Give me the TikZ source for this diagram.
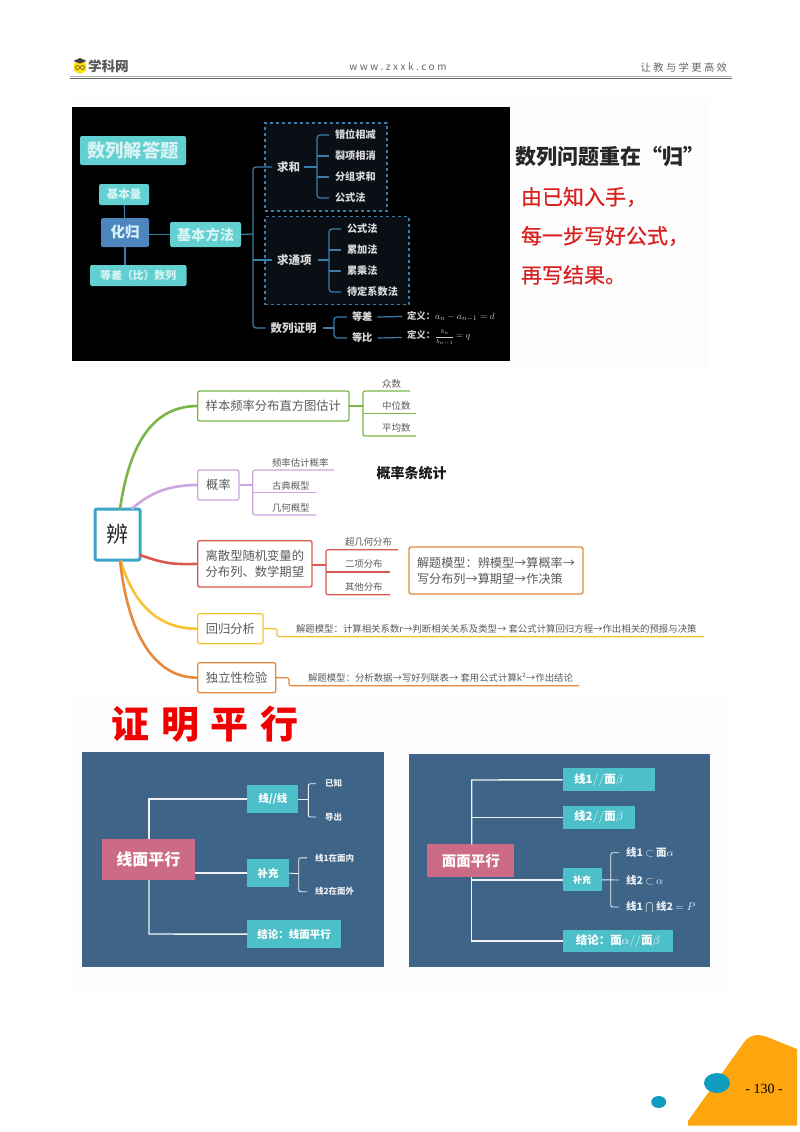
\documentclass[tikz,border=0pt]{standalone}
\usepackage{fontspec}
\setmainfont{Noto Sans CJK SC}
\newfontfamily\titlefont[LetterSpace=30]{Noto Sans CJK SC}
\newfontfamily\medfont[FakeBold=0.5]{Noto Sans CJK SC}
\newfontfamily\romanfont{Liberation Serif}
\newcommand{\fs}[1]{\fontsize{#1}{#1}\selectfont}
\newcommand{\nbox}[7]{\node[#6,minimum width={#4-#2},minimum height={#5-#3}] (#1) at ({(#2+#4)/2},{(#3+#5)/2}) {#7};}
\definecolor{tealb}{HTML}{62D0D0}
\definecolor{dline}{HTML}{3A7CAA}
\definecolor{hgblue}{HTML}{4C86BC}
\definecolor{dashfill}{HTML}{0A0F16}
\definecolor{mgreen}{HTML}{7AB648}
\definecolor{mpurple}{HTML}{CBA6E0}
\definecolor{mred}{HTML}{D9584F}
\definecolor{myellow}{HTML}{F6C334}
\definecolor{morange}{HTML}{E58A3C}
\definecolor{mblue}{HTML}{3AA6C8}
\definecolor{panelc}{HTML}{3E6487}
\definecolor{pinkc}{HTML}{CC6B85}
\definecolor{tealc}{HTML}{4DBFC9}
\definecolor{graytxt}{HTML}{5A5A5A}
\definecolor{footorange}{HTML}{FFA50D}
\definecolor{footblue}{HTML}{0E9CBF}
\definecolor{redt}{HTML}{DA1F1F}
\tikzset{
  base/.style={inner sep=0pt,outer sep=0pt},
  tbox/.style={base,fill=tealb,rounded corners=2pt,text=white!75!tealb,font=\bfseries\fs{#1}},
  dlab/.style={base,text=white!85!black,font=\bfseries\fs{#1}},
  dcon/.style={draw=dline,line width=1.2pt,rounded corners=3pt},
  dashbox/.style={base,draw=dline,dashed,line width=1.1pt,fill=dashfill},
  redtxt/.style={base,anchor=west,text=redt,font=\medfont\fs{21}},
  mbox/.style={base,draw=#1,line width=1.3pt,rounded corners=2pt,fill=white,text=graytxt,font=\fontsize{12.3}{16}\selectfont,align=left},
  mlab/.style={base,anchor=west,text=graytxt,font=\fs{#1}},
  thick curve/.style={draw=#1,line width=2.6pt},
  mcon/.style={draw=#1,line width=1.2pt,rounded corners=2pt},
  wcon/.style={draw=white!92!panelc,line width=1.4pt},
  wcons/.style={draw=white!92!panelc,line width=0.9pt,rounded corners=2pt},
  tealbox/.style={base,fill=tealc,text=white,font=\bfseries\fs{#1}},
  pinkbox/.style={base,fill=pinkc,text=white,font=\bfseries\fs{#1}},
  wlab/.style={base,anchor=west,text=white!90!panelc,font=\bfseries\fs{#1}},
}
\begin{document}
\begin{tikzpicture}[x=1pt,y=-1pt]
\useasboundingbox (0,0) rectangle (800,1132);
\fill[white] (0,0) rectangle (800,1132);
% faint image backgrounds
\fill[black!0.7] (72,97) rectangle (708,371);
\fill[black!0.7] (72,695) rectangle (725,995);
% header
\fill[black!30] (70,76.4) rectangle (732,77.2);
\fill[black!60] (70,78) rectangle (732,79.2);
\fill[yellow!85!orange] (80,67) ellipse (6.5 and 6.5);
\fill[black!75] (73.5,61) -- (80,58) -- (86.5,61) -- (80,63.5) -- cycle;
\draw[black!70,line width=.6pt] (77.5,67.5) circle (2) (82.5,67.5) circle (2);
\node[base,anchor=west,text=black!65,font=\bfseries\fs{13.6}] (logo) at (88,66) {学科网};
\node[base,text=black!60,font=\fs{10}] (url) at (398,67) {\addfontfeature{LetterSpace=25}www.zxxk.com};
\node[base,anchor=east,text=black!60,font=\fs{10.3}] (slogan) at (727,67.5) {\addfontfeature{LetterSpace=23}让教与学更高效};

% ---------- panel 1
\fill[black] (72,107) rectangle (510,361);
\node[dashbox,minimum width=122,minimum height=88] (dash1) at (326,167) {};
\node[dashbox,minimum width=144,minimum height=88] (dash2) at (337,260.5) {};
\nbox{title}{80}{136}{186}{165}{tbox=18.3}{数列解答题}
\nbox{jbl}{99}{184}{149}{205}{tbox=11.5}{基本量}
\nbox{hg}{101}{218}{149}{247}{tbox=14.5,fill=hgblue,text=white!85!cyan}{化归}
\nbox{jbff}{170}{222}{241}{247}{tbox=14.3}{基本方法}
\nbox{dc}{90}{265}{186.5}{286}{tbox=10.8}{等差（比）数列}
\draw[dcon] (jbl) -- (hg);
\draw[dcon] (hg) -- (dc.north -| hg);
\draw[dcon] (hg.east |- jbff) -- (jbff);
\node[dlab=11.5,anchor=west] (qh) at (277,167) {求和};
\node[dlab=11.5,anchor=west] (qtx) at (277,260) {求通项};
\node[dlab=11.5,anchor=west] (slzm) at (270.7,328) {数列证明};
\coordinate (bus) at (253,234);
\draw[dcon] (jbff.east) -- (bus);
\draw[dcon] ([xshift=-5pt]qh.west) -| (bus);
\draw[dcon] ([xshift=-5pt]slzm.west) -| (bus);
\draw[dcon] ([xshift=-5pt]qtx.west) -- (qtx.west -| bus);
\foreach \n/\t/\y in {a1/错位相减/135,a2/裂项相消/156,a3/分组求和/177,a4/公式法/198}{
  \node[dlab=10.2,anchor=west] (\n) at (335,\y) {\t};}
\foreach \n/\t/\y in {b1/公式法/229,b2/累加法/250,b3/累乘法/271,b4/待定系数法/292}{
  \node[dlab=10.2,anchor=west] (\n) at (347,\y) {\t};}
\coordinate (sa) at (317,167);
\coordinate (sb) at (329,260);
\coordinate (sc) at (334,328);
\draw[dcon] ([xshift=-6pt]a1.west) -| (sa) ([xshift=-6pt]a4.west) -| (sa);
\draw[dcon] ([xshift=-6pt]a2.west) -- (a2.west -| sa) ([xshift=-6pt]a3.west) -- (a3.west -| sa);
\draw[dcon] ([xshift=4pt]qh.east) -- (sa);
\draw[dcon] ([xshift=-6pt]b1.west) -| (sb) ([xshift=-6pt]b4.west) -| (sb);
\draw[dcon] ([xshift=-6pt]b2.west) -- (b2.west -| sb) ([xshift=-6pt]b3.west) -- (b3.west -| sb);
\draw[dcon] ([xshift=6pt]qtx.east) -- (sb);
\node[dlab=10.2,anchor=west] (dc1) at (352,317) {等差};
\node[dlab=10.2,anchor=west] (db1) at (352,338) {等比};
\draw[dcon] ([xshift=-5pt]dc1.west) -| (sc) ([xshift=-5pt]db1.west) -| (sc);
\draw[dcon] ([xshift=6pt]slzm.east) -- (sc);
\node[base,anchor=west,text=white!80!black,font=\bfseries\fs{9.4}] (dy1) at (407,316.5) {定义：$a_n-a_{n-1}=d$};
\node[base,anchor=west,text=white!80!black,font=\bfseries\fs{9.4}] (dy2) at (407,337.5) {定义：{\fs{6}$\displaystyle\frac{b_n}{b_{n-1}}$}$\,=q$};
\draw[dcon] ([xshift=5pt]dc1.east) -- ([xshift=-5pt]dy1.west);
\draw[dcon] ([xshift=5pt]db1.east) -- ([xshift=-5pt]dy2.west);
\node[base,anchor=west,text=black!85,font=\bfseries\fs{21}] (q0) at (515,157) {数列问题重在“归”};
\node[redtxt] (q1) at (521,197) {由已知入手，};
\node[redtxt] (q2) at (521,236) {每一步写好公式，};
\node[redtxt] (q3) at (521,275) {再写结果。};

% ---------- mind map
\nbox{bian}{95}{509}{140}{560}{base,draw=mblue,line width=3pt,rounded corners=2pt,fill=white,text=black!85,font=\fs{22}}{辨}
\nbox{m1}{197.7}{391}{349}{421}{mbox=mgreen}{样本频率分布直方图估计}
\nbox{m2}{197.7}{470}{239}{500}{mbox=mpurple}{概率}
\nbox{m3}{197.7}{540.7}{312}{587}{mbox=mred}{离散型随机变量的\\分布列、数学期望}
\nbox{m4}{197.7}{613.7}{263}{643.7}{mbox=myellow}{回归分析}
\nbox{m5}{197.7}{662.7}{275.7}{692.7}{mbox=morange}{独立性检验}
\draw[thick curve=mgreen] ([xshift=2.5pt]bian.north) .. controls (130,440) and (155,406) .. (m1.west);
\draw[thick curve=mpurple] ([xshift=14pt]bian.north) .. controls (148,495) and (165,485) .. (m2.west);
\draw[thick curve=mred] ([yshift=5pt]bian.south east) .. controls (160,562) and (170,565) .. (m3.west);
\draw[thick curve=myellow] ([xshift=3pt]bian.south) .. controls (132,600) and (155,629) .. (m4.west);
\draw[thick curve=morange] ([xshift=2.5pt]bian.south) .. controls (128,635) and (155,678) .. (m5.west);
% branch 1
\node[mlab=9.5] (g1) at (382,384) {众数};
\node[mlab=9.5] (g2) at (382,406) {中位数};
\node[mlab=9.5] (g3) at (382,428) {平均数};
\coordinate (g0) at (363,406);
\coordinate (ge1) at (410,391);
\coordinate (ge2) at (416,413.3);
\coordinate (ge3) at (416,436);
\draw[mcon=mgreen] (m1.east) -- (g0);
\draw[mcon=mgreen] (ge1) -| (g0) (ge3) -| (g0);
\draw[mcon=mgreen] (ge2) -- (ge2 -| g0);
% branch 2
\node[mlab=9.4] (p1) at (272,463) {频率估计概率};
\node[mlab=9.4] (p2) at (272,485.5) {古典概型};
\node[mlab=9.4] (p3) at (272,508) {几何概型};
\coordinate (p0) at (252.7,485);
\coordinate (pe1) at (334,470);
\coordinate (pe2) at (316,492.7);
\coordinate (pe3) at (316,515);
\draw[mcon=mpurple] (m2.east) -- (p0);
\draw[mcon=mpurple] (pe1) -| (p0) (pe3) -| (p0);
\draw[mcon=mpurple] (pe2) -- (pe2 -| p0);
% branch 3
\node[mlab=9.4] (r1) at (345,542) {超几何分布};
\node[mlab=9.4] (r2) at (345,564) {二项分布};
\node[mlab=9.4] (r3) at (345,587) {其他分布};
\coordinate (r0) at (326,565);
\coordinate (re1) at (398,549.7);
\coordinate (re2) at (390,572);
\coordinate (re3) at (390,594.7);
\draw[mcon=mred] (m3.east |- r0) -- (r0);
\draw[mcon=mred] (re1) -| (r0) (re3) -| (r0);
\draw[mcon=mred] (re2) -- (re2 -| r0);
% model box
\nbox{model}{409}{547}{583}{594}{mbox=morange,font=\fontsize{12.15}{16}\selectfont}{解题模型：辨模型→算概率→\\写分布列→算期望→作决策}
% branch 4
\node[mlab=9.4] (y1) at (296,628.5) {解题模型：计算相关系数r→判断相关关系及类型→ 套公式计算回归方程→作出相关的预报与决策};
\coordinate (ye) at (704,636.7);
\coordinate (y0) at (277,636.7);
\draw[mcon=myellow] (m4.east) -| (y0) -- (ye);
% branch 5
\node[mlab=9.4] (o1) at (308,677.5) {解题模型：分析数据→写好列联表→ 套用公式计算k²→作出结论};
\coordinate (oe) at (579,685.7);
\coordinate (o0) at (289,685.7);
\draw[mcon=morange] (m5.east) -| (o0) -- (oe);
\node[base,anchor=west,text=black!90,font=\bfseries\fs{14}] (gltj) at (376.7,473) {概率条统计};

% ---------- parallel section
\node[base,text=red!95!black,font=\titlefont\bfseries\fs{38}] (zmpx) at (205,724) {证明平行};
\fill[panelc] (82,752) rectangle (384,967);
\nbox{xm}{101.7}{839}{195}{880}{pinkbox=16}{线面平行}
\nbox{xx}{247.3}{785}{298.3}{813}{tealbox=10.5}{线//线}
\nbox{bc}{247.3}{859}{289}{887.3}{tealbox=10.5}{补充}
\nbox{jl}{247.3}{920}{340.7}{948.3}{tealbox=10.5}{结论：线面平行}
\coordinate (xa) at (149,799);
\coordinate (xb) at (149,934);
\draw[wcon] (xm.north -| xa) -- (xa) -- (xx.west);
\draw[wcon] (xm.south -| xb) -- (xb) -- (jl.west);
\draw[wcon] (xm.east |- bc) -- (bc.west);
\node[wlab=8.5] (l1) at (325,783.7) {已知};
\node[wlab=8.5] (l2) at (325,817) {导出};
\node[wlab=8.5] (l3) at (315,857.8) {线1在面内};
\node[wlab=8.5] (l4) at (315,891.7) {线2在面外};
\coordinate (xs1) at (308.3,799);
\coordinate (xs2) at (298.7,873.7);
\draw[wcons] (xx.east) -- (xs1);
\draw[wcons] ([xshift=-9pt]l1.west) -| (xs1) ([xshift=-9pt]l2.west) -| (xs1);
\draw[wcons] (bc.east) -- (xs2);
\draw[wcons] ([xshift=-8pt]l3.west) -| (xs2) ([xshift=-8pt]l4.west) -| (xs2);

\fill[panelc] (409,753.7) rectangle (710,967);
\nbox{mm}{427.3}{844.3}{514.3}{877.3}{pinkbox=14.5}{面面平行}
\nbox{n1}{562.7}{768.3}{654.7}{791.3}{tealbox=11.5}{线1$//$面$\beta$\hspace*{20pt}}
\nbox{n2}{562.7}{806}{634.7}{829}{tealbox=11.5}{线2$//$面$\beta$}
\nbox{n3}{562.7}{868.3}{601.7}{891.3}{tealbox=9}{补充}
\nbox{n4}{562.7}{929.7}{673}{952.3}{tealbox=11.5}{结论：面$\alpha//$面$\beta$}
\coordinate (ma) at (471.7,780);
\coordinate (mb) at (471.7,941);
\draw[wcon] (mm.north -| ma) -- (ma) -- (n1.west);
\draw[wcon] (n2.west) -- (n2.west -| ma);
\draw[wcon] (mm.south -| mb) -- (mb) -- (n4.west);
\draw[wcon] (n3.west) -- (n3.west -| ma);
\node[wlab=10.5] (c1) at (626,852.7) {线1 $\subset$ 面$\alpha$};
\node[wlab=10.5] (c2) at (626,880) {线2 $\subset$ $\alpha$};
\node[wlab=10.5] (c3) at (626,907) {线1 $\bigcap$ 线2 $=P$};
\coordinate (ms) at (610.7,879.6);
\draw[wcons] (n3.east) -- ([xshift=-7pt]c2.west);
\draw[wcons] ([xshift=-7pt]c1.west) -| (ms) ([xshift=-7pt]c3.west) -| (ms);

% ---------- footer
\fill[footorange] (688,1125.5) -- (688,1121) -- (745,1041) .. controls (751,1034) and (759,1034) .. (767,1037) -- (797,1049) -- (797,1125.5) -- cycle;
\fill[footblue] (717,1083) ellipse (13 and 10);
\fill[footblue] (658.7,1102) ellipse (7.5 and 6);
\node[base,text=black,font=\romanfont\fs{14}] (pg) at (764,1089) {- 130 -};
\end{tikzpicture}
\end{document}
